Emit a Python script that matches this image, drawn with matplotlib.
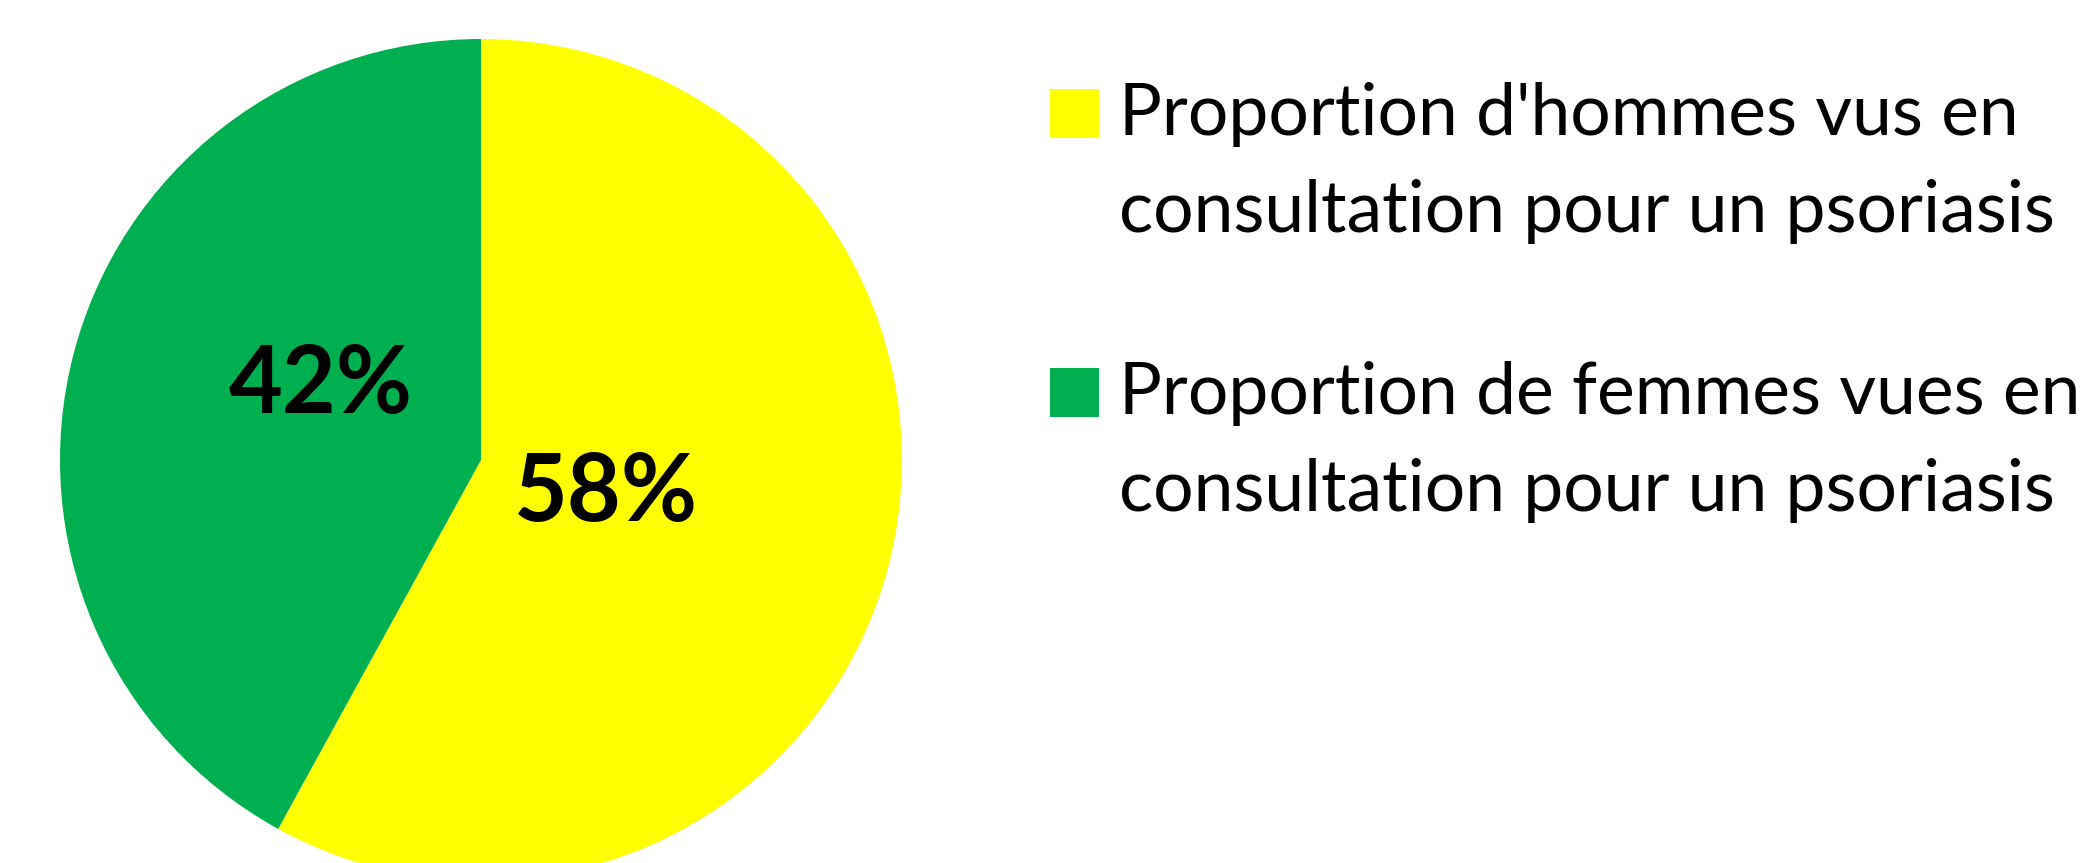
import matplotlib.pyplot as plt
from matplotlib.patches import Rectangle

# Données
categories = ["Proportion d'hommes vus en\nconsultation pour un psoriasis",
              "Proportion de femmes vues en\nconsultation pour un psoriasis"]
values = [58, 42]
colors = ['#FFFF00', '#00B050']

W, H = 2081, 863
fig = plt.figure(figsize=(W / 100, H / 100), dpi=100)

# pie: centre (481, 460) px, rayon 421 px
cx, cy, r = 481, 460, 421
ax = fig.add_axes([(cx - r) / W, (H - cy - r) / H, 2 * r / W, 2 * r / H])
wedges, _ = ax.pie(values, colors=colors, startangle=90, counterclock=False,
                   radius=1, wedgeprops=dict(linewidth=0))
ax.set_xlim(-1, 1)
ax.set_ylim(-1, 1)
ax.set_aspect('auto')
ax.axis('off')

# étiquettes de pourcentage
label_pos = [(0.297, -0.080), (-0.382, 0.175)]
for v, (x, y) in zip(values, label_pos):
    ax.text(x, y, '%d%%' % v, ha='center', va='center', fontsize=67,
            fontweight='bold', family='Lato', color='black')

# légende
box_x, box = 1050, 49
entry_top = [89, 368]
line_gap = 97
for cat, col, top in zip(categories, colors, entry_top):
    fig.patches.append(Rectangle((box_x / W, (H - top - box) / H), box / W, box / H,
                                 transform=fig.transFigure, facecolor=col,
                                 edgecolor='none'))
    for k, line in enumerate(cat.split('\n')):
        base = top + 46 + k * line_gap
        fig.text(1119 / W, (H - base) / H, line, ha='left', va='baseline',
                 fontsize=51.5, family='Lato', color='black')

plt.savefig('out.png', dpi=100)
